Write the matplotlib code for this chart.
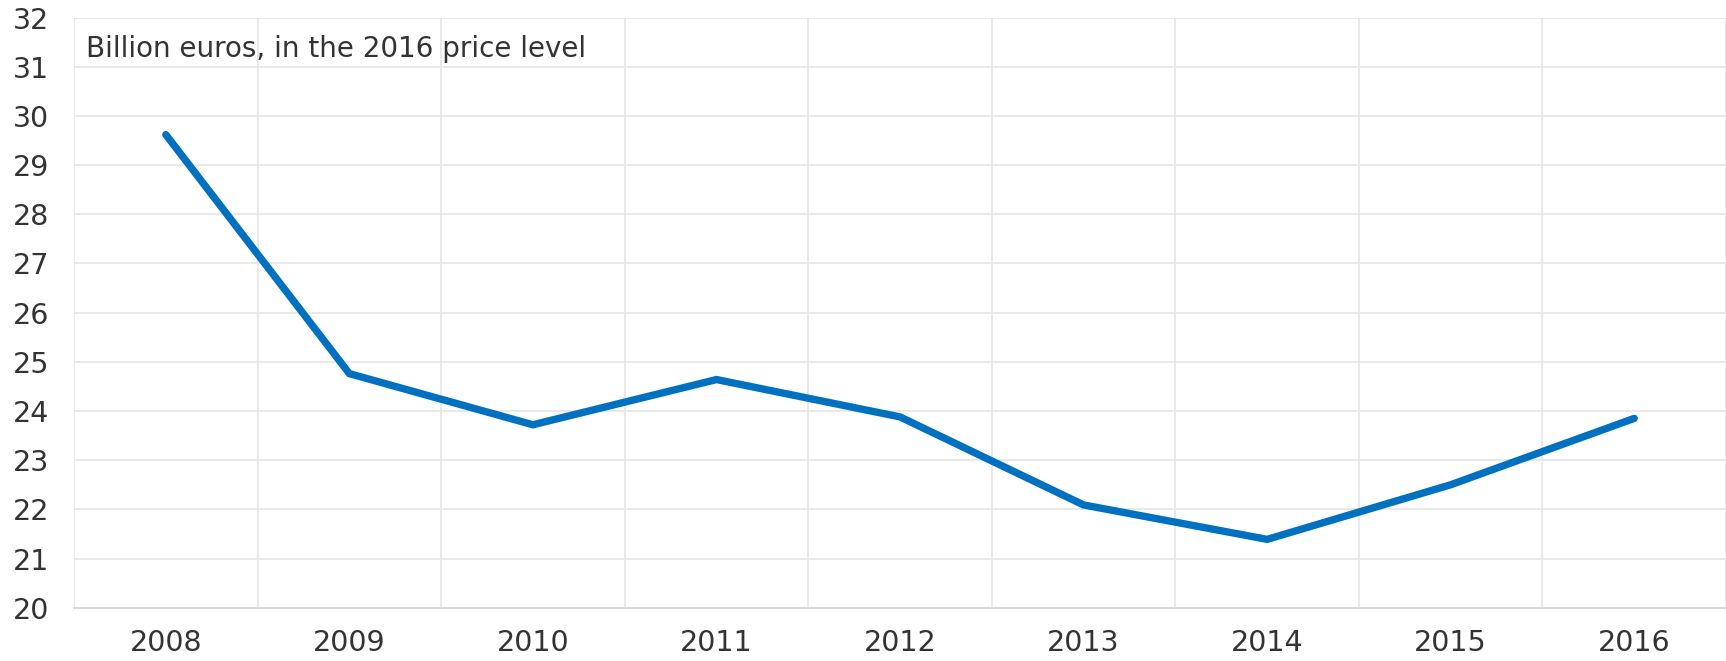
import matplotlib.pyplot as plt
import numpy as np

years = ['2008', '2009', '2010', '2011', '2012', '2013', '2014', '2015', '2016']
values = [29.62, 24.76, 23.72, 24.64, 23.88, 22.09, 21.39, 22.50, 23.85]

plt.rcParams['font.family'] = ['DejaVu Sans']

fig = plt.figure(figsize=(17.26, 6.61), dpi=100)
ax = fig.add_axes([0.0429, 0.0806, 0.9571, 0.8928])

x = np.arange(len(years))
ax.plot(x, values, color='#0070c0', linewidth=5.3, solid_capstyle='round',
        solid_joinstyle='miter', zorder=3)

ax.set_xlim(-0.5, len(years) - 0.5)
ax.set_ylim(20, 32)
ax.set_yticks(range(20, 33))
ax.set_xticks(x)
ax.set_xticklabels(years)
ax.set_xticks(np.arange(-0.5, len(years)), minor=True)

ax.grid(axis='y', which='major', color='#e3e3e3', linewidth=1.1)
ax.grid(axis='x', which='minor', color='#e3e3e3', linewidth=1.1)
ax.grid(axis='x', which='major', visible=False)

for s in ['top', 'right', 'left']:
    ax.spines[s].set_visible(False)
ax.spines['bottom'].set_color('#d9d9d9')
ax.spines['bottom'].set_linewidth(1.5)

ax.tick_params(axis='both', which='both', length=0, labelsize=20.5, colors='#333333')
ax.tick_params(axis='y', pad=18)
ax.tick_params(axis='x', pad=15)

ax.text(0.0075, 0.946, 'Billion euros, in the 2016 price level', transform=ax.transAxes,
        fontsize=20, color='#333333', va='center', ha='left')

fig.savefig('out.png', dpi=100)
